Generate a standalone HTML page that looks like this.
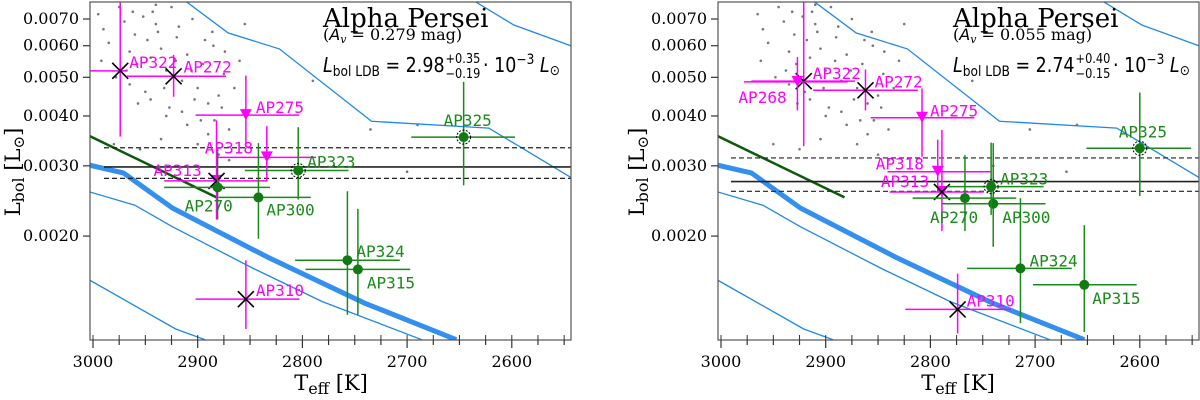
<!DOCTYPE html>
<html><head><meta charset="utf-8"><style>
body{margin:0;background:#fff;width:1200px;height:400px;overflow:hidden}
svg{display:block}
.tk{font-family:"DejaVu Serif","Liberation Serif",serif;font-size:16px;fill:#000}
.lb{font-family:"DejaVu Sans Mono","Liberation Mono",monospace;font-size:16px}
</style></head><body>
<svg id="chart" width="1200" height="400" viewBox="0 0 1200 400" xmlns="http://www.w3.org/2000/svg"></svg>
<script>
const thickT=[3003,2971,2924,2833,2741,2653];
const thickL=[0.00301,0.00288,0.00235,0.00177,0.00136,0.00110];
const low1T=[3003,2960,2924,2847,2781,2686];
const low1L=[0.00258,0.00239,0.00211,0.00166,0.00137,0.00110];
const low2T=[3003,2921,2893];
const low2L=[0.00155,0.00117,0.00110];
const upT=[2911,2871,2822,2734,2622,2543];
const upL=[0.00774,0.00646,0.00589,0.00388,0.00373,0.00280];
const up2T=[2635,2598,2543];
const up2L=[0.00774,0.00676,0.00599];
const greenLineT=[3003,2882];
const greenLineL=[0.00356,0.00250];
const yTicks=[0.002,0.003,0.004,0.005,0.006,0.007];
const yTickLabels=["0.0020","0.0030","0.0040","0.0050","0.0060","0.0070"];
const xTicks=[3000,2900,2800,2700,2600];
const greyT=[2995,2990,2985,2975,2970,2965,2960,2958,2952,2948,2945,2940,2935,2930,2925,2920,2915,2910,2905,2900,2895,2890,2885,2880,2875,2870,2965,2945,2930,2910,2890,2955,2935,2915,2900,2880,2870,2860,2855,2790,2735,2690,2700,2770,2980,2940,2992,2978,2962,2950,2938,2927,2918,2906,2897,2886,2877,2968,2957,2943,2932,2921,2903,2893,2884,2874,2865];
const greyL=[0.0072,0.0066,0.0061,0.0075,0.0069,0.0058,0.0064,0.0054,0.0071,0.0062,0.0056,0.0068,0.0059,0.0052,0.0075,0.0063,0.0049,0.0057,0.0070,0.0047,0.0054,0.0043,0.0060,0.0045,0.0051,0.0037,0.0048,0.0044,0.0040,0.0038,0.0036,0.0033,0.0035,0.0041,0.0034,0.0032,0.0031,0.0055,0.0068,0.0049,0.0037,0.0038,0.0029,0.0030,0.0034,0.0076,0.0055,0.0050,0.0073,0.0046,0.0065,0.0042,0.0067,0.0052,0.0039,0.0065,0.0042,0.0052,0.0043,0.0073,0.0047,0.0055,0.0044,0.0062,0.0039,0.0058,0.0047];

const leftNames=["AP322","AP272","AP275","AP318","AP313","AP310","AP270","AP300","AP323","AP325","AP324","AP315"];
const leftKind=["x","x","tri","tri","xt","x","g","g","gd","gd","g","g"];
const leftT=[2974,2923,2854,2834,2882,2854,2881,2842,2804,2646,2757,2747];
const leftL=[0.00519,0.00503,0.00402,0.00315,0.00275,0.00139,0.00265,0.00250,0.00292,0.00354,0.00174,0.00165];
const leftTlo=[3003,2968,2902,2882,2932,2902,2932,2880,2855,2696,2807,2797];
const leftThi=[2968,2873,2803,2787,2834,2803,2831,2792,2756,2597,2707,2697];
const leftLlo=[0.00355,0.00447,0.00334,0.00274,0.00220,0.00117,0.00220,0.00197,0.00247,0.00268,0.00127,0.00127];
const leftLhi=[0.0078,0.00569,0.00505,0.00377,0.00390,0.00174,0.00331,0.00342,0.00375,0.00487,0.00259,0.00234];
const leftLdb=[0.00298,0.00333,0.00279];
const rightNames=["AP322","AP268","AP272","AP275","AP318","AP313","AP310","AP270","AP300","AP323","AP325","AP324","AP315"];
const rightKind=["x","tri","x","tri","tri","xt","x","g","g","gd","gd","g","g"];
const rightT=[2921,2927,2862,2808,2793,2789,2774,2767,2740,2742,2600,2714,2653];
const rightL=[0.00489,0.00487,0.00464,0.00396,0.00290,0.00258,0.00131,0.00249,0.00241,0.00266,0.00332,0.00166,0.00151];
const rightTlo=[2971,2978,2912,2857,2841,2839,2824,2817,2789,2784,2651,2765,2702];
const rightThi=[2872,2879,2812,2758,2742,2749,2723,2718,2690,2692,2551,2665,2603];
const rightLlo=[0.00336,0.00413,0.00413,0.00316,0.00257,0.00206,0.00114,0.00206,0.00188,0.00226,0.00252,0.00121,0.00115];
const rightLhi=[0.0078,0.00562,0.00523,0.00469,0.00349,0.00369,0.00161,0.00319,0.00342,0.00343,0.00458,0.00249,0.00213];
const rightLdb=[0.00274,0.00314,0.00259];

const svg=document.getElementById('chart');
const NS="http://www.w3.org/2000/svg";
function mk(tag,attrs,parent){const e=document.createElementNS(NS,tag);for(const k in attrs)e.setAttribute(k,attrs[k]);(parent||svg).appendChild(e);return e;}
function yS(L){return 19+399*Math.log10(0.007/L);}

function panel(o){
  const xS=T=>o.x3000+(3000-T)*1.047;
  const g=mk('g',{});
  
  
  const cid='clip-'+o.id;
  const cp=mk('clipPath',{id:cid},g);
  mk('rect',{x:o.x0,y:2,width:o.x1-o.x0,height:338},cp);
  const pg=mk('g',{'clip-path':'url(#'+cid+')'},g);
  for(let i=0;i<greyT.length;i++){
    const c=mk('circle',{cx:xS(greyT[i]+o.gshift),cy:yS(greyL[i]),r:1.3,fill:'#777'},pg);
    
    
  }
  function line(T,L,col,w,name){
    const p=mk('polyline',{points:T.map((t,i)=>xS(t)+','+yS(L[i])).join(' '),fill:'none',stroke:col,'stroke-width':w},pg);
    
    
  }
  line(thickT,thickL,'#3390ee',5,'isochrone-main');
  line(low1T,low1L,'#1e88e5',1.3,'isochrone-lower-1');
  line(low2T,low2L,'#1e88e5',1.3,'isochrone-lower-2');
  line(upT,upL,'#1e88e5',1.3,'isochrone-upper-1');
  line(up2T,up2L,'#1e88e5',1.3,'isochrone-upper-2');
  line(greenLineT,greenLineL,'#0b5a0b',2.5,'ldb-green-line');
  const ld=[[o.ldb[0],'none','ldb-line'],[o.ldb[1],'5,3','ldb-upper'],[o.ldb[2],'5,3','ldb-lower']];
  ld.forEach(a=>{const l=mk('line',{x1:o.hx,x2:o.x1,y1:yS(a[0]),y2:yS(a[0]),stroke:'#222','stroke-width':a[1]=='none'?1.6:1.2},pg);
    if(a[1]!='none')l.setAttribute('stroke-dasharray',a[1]);
    
    });
  const d=o.d;
  for(let i=0;i<d.names.length;i++){
    const k=d.kind[i];const green=k[0]=='g';const col=green?'#1a8a1a':'#ff00ff';
    const x=xS(d.T[i]),y=yS(d.L[i]);
    const pt=mk('g',{},pg);
    
    
    mk('line',{x1:xS(d.Tlo[i]),x2:xS(d.Thi[i]),y1:y,y2:y,stroke:col,'stroke-width':1.5},pt);
    mk('line',{x1:x,x2:x,y1:yS(d.Llo[i]),y2:yS(d.Lhi[i]),stroke:col,'stroke-width':1.5},pt);
    if(k=='tri'||k=='xt')mk('path',{d:`M${x-6},${y-6}L${x+6},${y-6}L${x},${y+5}Z`,fill:'#ff00ff'},pt);
    if(k=='x'||k=='xt')mk('path',{d:`M${x-8},${y-8}L${x+8},${y+8}M${x-8},${y+8}L${x+8},${y-8}`,stroke:'#000','stroke-width':1.6},pt);
    if(green){mk('circle',{cx:x,cy:y,r:5,fill:'#127a12'},pt);
      if(k=='gd')mk('circle',{cx:x,cy:y,r:7,fill:'none',stroke:'#000','stroke-width':1,'stroke-dasharray':'2,1.5'},pt);}
    const t=mk('text',{x:x+d.dx[i],y:y+d.dy[i]+6,class:'lb',fill:green?'#1a8a1a':'#ff00ff'},g);
    t.textContent=d.names[i];
    
    
  }
  const fr=mk('rect',{x:o.x0,y:2,width:o.x1-o.x0,height:338,fill:'none',stroke:'#555','stroke-width':1.2},g);
  
  
  for(let T=3000;T>=2550;T-=25){const x=xS(T);const maj=T%100==0;
    mk('line',{x1:x,x2:x,y1:340,y2:maj?348:345,stroke:'#333','stroke-width':1.2},g);
    mk('line',{x1:x,x2:x,y1:340,y2:335,stroke:'#333','stroke-width':1},g);}
  xTicks.forEach(T=>{const t=mk('text',{x:xS(T),y:367,'text-anchor':'middle',class:'tk'},g);t.textContent=T;
    
    });
  yTicks.forEach((v,i)=>{const y=yS(v);mk('line',{x1:o.x0-7,x2:o.x0,y1:y,y2:y,stroke:'#333','stroke-width':1.2},g);
    const t=mk('text',{x:o.x0-11,y:y+5,'text-anchor':'end',class:'tk'},g);t.textContent=yTickLabels[i];
    
    });
  const xt=mk('text',{x:o.xlab,y:390,'text-anchor':'middle',style:'font-family:"DejaVu Serif","Liberation Serif",serif;font-size:21px'},g);
  xt.innerHTML='T<tspan font-size="16" dy="4">eff</tspan><tspan dy="-4"> [K]</tspan>';
  
  
  const yt=mk('text',{transform:`translate(${o.ylab},172) rotate(-90)`,'text-anchor':'middle',style:'font-family:"DejaVu Serif","Liberation Serif",serif;font-size:21px'},g);
  yt.innerHTML='L<tspan font-size="16" dy="4">bol</tspan><tspan dy="-4"> [L</tspan><tspan font-size="15" dy="4">⊙</tspan><tspan dy="-4">]</tspan>';
  
  
  const a1=mk('text',{x:o.tx,y:27,style:'font-family:"DejaVu Serif","Liberation Serif",serif;font-size:26px'},g);
  a1.textContent='Alpha Persei';
  
  
  const a2=mk('text',{x:o.tx,y:40,style:'font-family:"DejaVu Serif","Liberation Serif",serif;font-size:16px'},g);
  a2.innerHTML='(<tspan font-style="italic" font-family="DejaVu Sans">A</tspan><tspan font-size="11" dy="3" font-style="italic">v</tspan><tspan dy="-3"> = '+o.av+' mag)</tspan>';
  
  
  const ann=mk('g',{style:'font-family:"DejaVu Sans","Liberation Sans",sans-serif'},g);
  
  
  const t1=mk('text',{x:o.tx,y:72,'font-size':20},ann);
  t1.innerHTML='<tspan font-style="italic">L</tspan><tspan font-size="14" dy="4">bol LDB</tspan><tspan dy="-4"> = '+o.lv+'</tspan>';
  const w1=t1.getComputedTextLength();
  const sx=o.tx+w1+1;
  const su=mk('text',{x:sx,y:63,'font-size':13},ann);su.textContent='+'+o.up;
  const sd=mk('text',{x:sx,y:78,'font-size':13},ann);sd.textContent='−'+o.dn;
  const sw=Math.max(su.getComputedTextLength(),sd.getComputedTextLength());
  const t2=mk('text',{x:sx+sw+3,y:72,'font-size':20},ann);
  t2.innerHTML='· 10<tspan font-size="14" dy="-8">−3</tspan><tspan dy="8" font-style="italic"> L</tspan><tspan font-size="14" dy="3">⊙</tspan>';
  const bw=ann.getBBox().width;
  if(bw>0){const s=237/bw;ann.setAttribute('transform',`translate(${o.tx},0) scale(${s},1) translate(${-o.tx},0)`);}
}
panel({id:'left',x0:90,x1:571,x3000:93,hx:104,xlab:331,ylab:20,tx:323,gshift:0,av:'0.279',lv:'2.98',up:'0.35',dn:'0.19',ldb:leftLdb,
  d:{names:leftNames,kind:leftKind,T:leftT,L:leftL,Tlo:leftTlo,Thi:leftThi,Llo:leftLlo,Lhi:leftLhi,
     dx:[9,10,10,-62,-63,10,-33,8,9,-20,9,9],dy:[-9,-10,-8,-10,-11,-9,18,12,-9,-17,-9,13]}});
panel({id:'right',x0:718,x1:1199,x3000:721,hx:731,xlab:958,ylab:644,tx:953,gshift:-30,av:'0.055',lv:'2.74',up:'0.40',dn:'0.15',ldb:rightLdb,
  d:{names:rightNames,kind:rightKind,T:rightT,L:rightL,Tlo:rightTlo,Thi:rightThi,Llo:rightLlo,Lhi:rightLhi,
     dx:[9,-59,9,8,-62,-61,9,-35,9,9,-21,9,8],dy:[-8,15,-9,-7,-8,-11,-9,19,13,-8,-17,-8,13]}});
</script>
</body></html>
